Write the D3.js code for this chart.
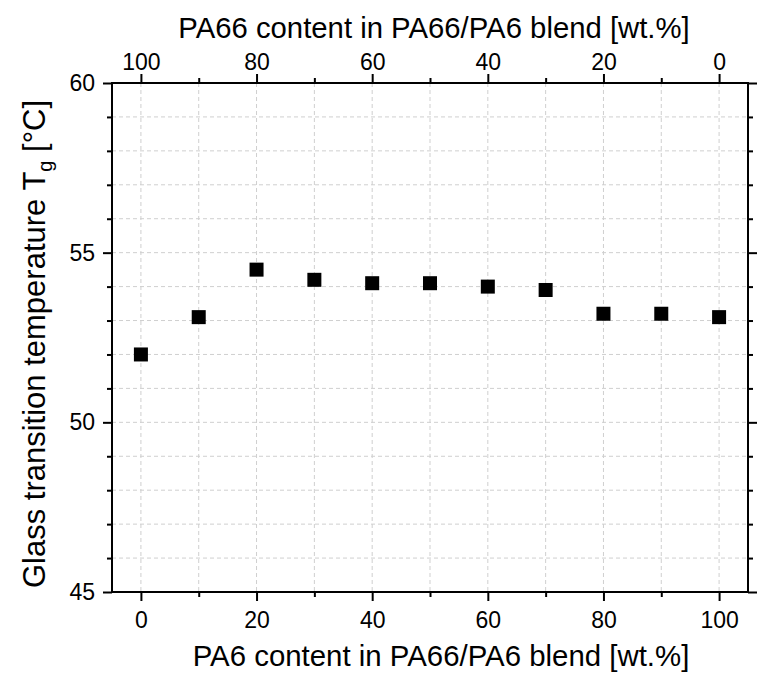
<!DOCTYPE html>
<html><head><meta charset="utf-8">
<script src="https://cdn.jsdelivr.net/npm/d3@7"></script>
<style>body{margin:0;background:#fff}svg{display:block}text{font-family:"Liberation Sans",Arial,sans-serif;fill:#000}</style>
</head><body>
<svg id="c" width="775" height="677"></svg>
<script>
const pa6Content = [0,10,20,30,40,50,60,70,80,90,100];
const tgValues = [52.0,53.1,54.5,54.2,54.1,54.1,54.0,53.9,53.2,53.2,53.1];
const bottomTicks = [0,20,40,60,80,100];
const topTickLabels = [100,80,60,40,20,0];
const yTicks = [45,50,55,60];

const svg = d3.select("#c");
const L=112,R=748,T=83,B=592;
const x = d3.scaleLinear().domain([-5,105]).range([L,R]);
const xTop = d3.scaleLinear().domain([105,-5]).range([L,R]);
const y = d3.scaleLinear().domain([45,60]).range([B,T]);

const grid = svg.append("g").attr("stroke","#cfcfcf").attr("stroke-width",1).attr("stroke-dasharray","4,3");
d3.range(0,101,10).forEach(v=>grid.append("line").attr("x1",x(v)).attr("x2",x(v)).attr("y1",T).attr("y2",B));
d3.range(46,60,1).forEach(v=>grid.append("line").attr("x1",L).attr("x2",R).attr("y1",y(v)).attr("y2",y(v)));

function style(g){g.select(".domain").remove();g.selectAll("line").attr("stroke","#000").attr("stroke-width",2);g.selectAll("text").style("font-size","23px").style("font-family","Liberation Sans, Arial, sans-serif");}

// bottom
svg.append("g").attr("transform",`translate(0,${B})`).call(d3.axisBottom(x).tickValues(d3.range(10,101,20)).tickSize(5).tickFormat("")).call(style);
svg.append("g").attr("transform",`translate(0,${B})`).call(d3.axisBottom(x).tickValues(bottomTicks).tickSize(9).tickPadding(11).tickFormat(d3.format("d"))).call(style);
// top
svg.append("g").attr("transform",`translate(0,${T})`).call(d3.axisTop(xTop).tickValues(d3.range(10,101,20)).tickSize(5).tickFormat("")).call(style);
svg.append("g").attr("transform",`translate(0,${T})`).call(d3.axisTop(xTop).tickValues(topTickLabels).tickSize(9).tickPadding(4).tickFormat(d3.format("d"))).call(style);
// left
svg.append("g").attr("transform",`translate(${L},0)`).call(d3.axisLeft(y).tickValues(d3.range(46,60,1).filter(v=>v%5)).tickSize(5).tickFormat("")).call(style);
svg.append("g").attr("transform",`translate(${L},0)`).call(d3.axisLeft(y).tickValues(yTicks).tickSize(9).tickPadding(8).tickFormat(d3.format("d"))).call(style);
// right
svg.append("g").attr("transform",`translate(${R},0)`).call(d3.axisRight(y).tickValues(d3.range(46,60,1).filter(v=>v%5)).tickSize(5).tickFormat("")).call(style);
svg.append("g").attr("transform",`translate(${R},0)`).call(d3.axisRight(y).tickValues(yTicks).tickSize(9).tickFormat("")).call(style);

svg.append("rect").attr("x",L).attr("y",T).attr("width",R-L).attr("height",B-T).attr("fill","none").attr("stroke","#000").attr("stroke-width",2);

const s=14;
svg.append("g").selectAll("rect").data(pa6Content).join("rect")
  .attr("x",(d)=>x(d)-s/2).attr("y",(d,i)=>y(tgValues[i])-s/2).attr("width",s).attr("height",s).attr("fill","#000");

svg.append("text").attr("x",441).attr("y",666).attr("text-anchor","middle").style("font-size","29.4px").text("PA6 content in PA66/PA6 blend [wt.%]");
svg.append("text").attr("x",434).attr("y",38).attr("text-anchor","middle").style("font-size","29.3px").text("PA66 content in PA66/PA6 blend [wt.%]");
const yt = svg.append("text").attr("transform",`translate(45,344) rotate(-90)`).attr("text-anchor","middle").style("font-size","31px");
yt.append("tspan").text("Glass transition temperature T");
yt.append("tspan").attr("dy",7).style("font-size","20px").text("g");
yt.append("tspan").attr("dy",-7).text(" [°C]");
</script>
</body></html>
